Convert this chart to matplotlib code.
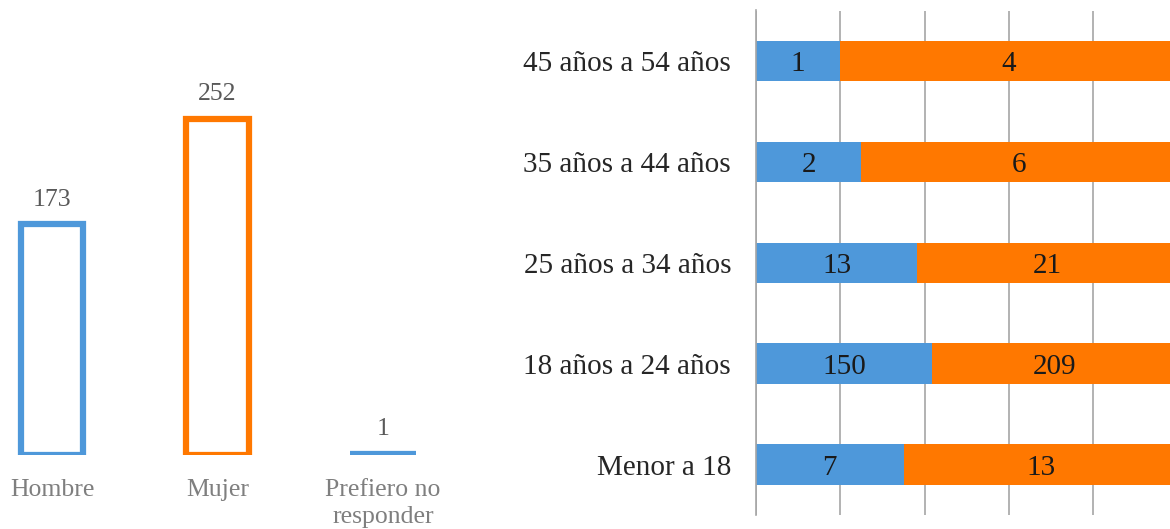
import matplotlib.pyplot as plt
import numpy as np

# Left chart: respondents by gender
GENDERS = ["Hombre", "Mujer", "Prefiero no\nresponder"]
GENDER_COUNTS = [173, 252, 1]
GENDER_COLORS = ["#4E98DA", "#FF7800", "#4E98DA"]

# Right chart: age groups, split in two series (100% stacked)
AGE_GROUPS = ["Menor a 18", "18 años a 24 años", "25 años a 34 años",
              "35 años a 44 años", "45 años a 54 años"]
SERIES_BLUE = [7, 150, 13, 2, 1]
SERIES_ORANGE = [13, 209, 21, 6, 4]

BLUE = "#4E98DA"
ORANGE = "#FF7800"
GRID = "#A6A6A6"

W, H = 1170, 529
plt.rcParams["font.family"] = ["Liberation Serif", "DejaVu Serif"]
fig = plt.figure(figsize=(W / 100, H / 100), dpi=100)


def px_axes(left, top, right, bottom):
    """Add axes using pixel coords measured from the top-left corner."""
    return fig.add_axes([left / W, 1 - bottom / H, (right - left) / W, (bottom - top) / H])


# ---- left: outlined bars ----
ax1 = px_axes(0, 60, 450, 455)
step = 165.5
ax1.set_xlim(-52 / step, (450 - 52) / step)
ax1.set_ylim(0, 395 / 1.335)
x = np.arange(len(GENDERS))
for xi, val, col in zip(x, GENDER_COUNTS, GENDER_COLORS):
    if val < 5:
        ax1.plot([xi - 0.2, xi + 0.2], [val, val], color=col, lw=4.5,
                 solid_capstyle="butt")
    else:
        ax1.bar(xi, val, width=0.375, facecolor="none", edgecolor=col, linewidth=4.5)
    ax1.text(xi, val + 10, str(val), ha="center", va="bottom", fontsize=18.5,
             color="#595959")
ax1.set_xticks(x)
ax1.set_xticklabels(GENDERS, fontsize=18.5, color="#7F7F7F", linespacing=1.3)
ax1.tick_params(axis="x", length=0, pad=17)
ax1.set_yticks([])
for s in ax1.spines.values():
    s.set_visible(False)

# ---- right: 100% stacked horizontal bars ----
ax2 = px_axes(756, 10.5, 1177.5, 515)
blue = np.array(SERIES_BLUE, dtype=float)
orange = np.array(SERIES_ORANGE, dtype=float)
tot = blue + orange
y = np.arange(len(AGE_GROUPS))
ax2.barh(y, blue / tot, height=0.4, color=BLUE, zorder=2)
ax2.barh(y, orange / tot, left=blue / tot, height=0.4, color=ORANGE, zorder=2)
for yi, b, o, t in zip(y, blue, orange, tot):
    ax2.text(b / t / 2, yi, f"{int(b)}", ha="center", va="center_baseline",
             fontsize=21, color="#1A1A1A", zorder=3)
    ax2.text(b / t + o / t / 2, yi, f"{int(o)}", ha="center", va="center_baseline",
             fontsize=21, color="#1A1A1A", zorder=3)
ax2.set_xlim(0, 1)
ax2.set_ylim(-0.5, len(AGE_GROUPS) - 0.5)
ax2.set_xticks(np.arange(0, 1.01, 0.2))
ax2.set_xticklabels([])
ax2.tick_params(axis="x", length=0)
ax2.grid(axis="x", color=GRID, linewidth=1.2, zorder=0)
ax2.set_axisbelow(True)
ax2.set_yticks(y)
ax2.set_yticklabels(AGE_GROUPS, fontsize=21, color="#262626")
ax2.tick_params(axis="y", length=0, pad=18)
for name, s in ax2.spines.items():
    if name == "left":
        s.set_color(GRID)
        s.set_linewidth(1.2)
    else:
        s.set_visible(False)

fig.savefig("out.png", dpi=100)
